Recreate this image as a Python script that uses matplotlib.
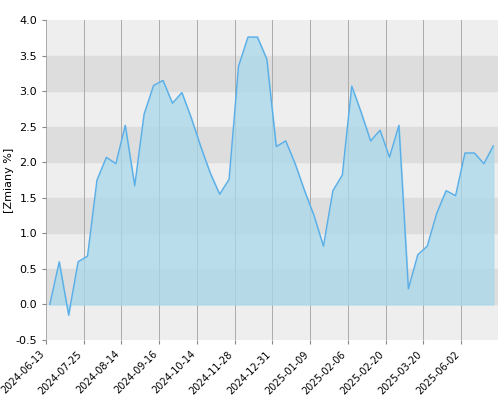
import matplotlib
matplotlib.use('Agg')
import matplotlib.pyplot as plt
import numpy as np

values = [0.0, 0.6, -0.15, 0.6, 0.68, 1.75, 2.07, 1.98, 2.52, 1.67, 2.68, 3.08,
          3.15, 2.83, 2.98, 2.62, 2.22, 1.85, 1.55, 1.76, 3.35, 3.76, 3.76, 3.45,
          2.22, 2.3, 1.98, 1.6, 1.25, 0.82, 1.6, 1.82, 3.07, 2.7, 2.3, 2.45,
          2.07, 2.52, 0.22, 0.7, 0.82, 1.28, 1.6, 1.53, 2.13, 2.13, 1.98, 2.23]
tick_labels = ['2024-06-13', '2024-07-25', '2024-08-14', '2024-09-16', '2024-10-14',
               '2024-11-28', '2024-12-31', '2025-01-09', '2025-02-06', '2025-02-20',
               '2025-03-20', '2025-06-02']

x = np.arange(len(values))
fig, ax = plt.subplots(figsize=(5, 4), dpi=100)
fig.subplots_adjust(left=0.092, right=0.996, top=0.95, bottom=0.15)

ax.set_facecolor('#eeeeee')
for lo in [0.0, 1.0, 2.0, 3.0]:
    ax.axhspan(lo, lo + 0.5, color='#dddddd', zorder=0)
tick_pos = x[::4]
for t in tick_pos:
    ax.axvline(t - 0.4, color='#aaaaaa', lw=0.7, zorder=1)

ax.fill_between(x, values, 0, color='#a8d8ea', alpha=0.75, zorder=2)
ax.plot(x, values, color='#5aaee8', lw=1, zorder=3)

ax.set_ylim(-0.5, 4.0)
ax.set_xlim(-0.4, len(values) - 0.5)
ax.set_yticks(np.arange(-0.5, 4.01, 0.5))
ax.set_yticklabels([f'{v:.1f}' for v in np.arange(-0.5, 4.01, 0.5)], fontsize=8)
ax.set_xticks(tick_pos - 0.4)
ax.set_xticklabels(tick_labels, rotation=45, ha='right', fontsize=7)
ax.set_ylabel('[Zmiany %]', fontsize=8, labelpad=1)
ax.tick_params(length=3, color='#888888')
for s in ax.spines.values():
    s.set_visible(False)

fig.savefig('out.png')
